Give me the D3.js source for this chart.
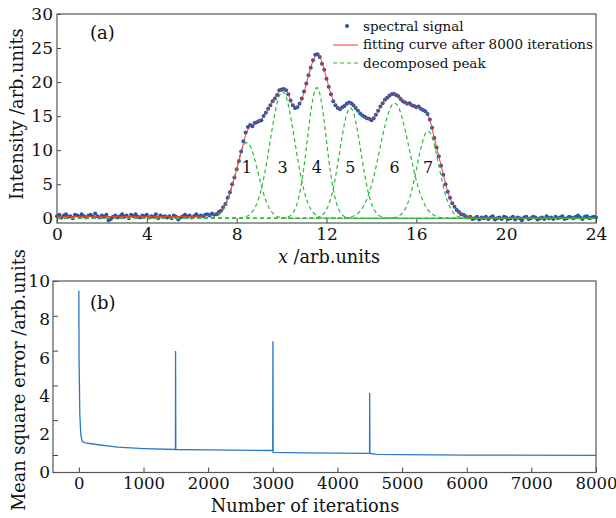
<!DOCTYPE html>
<html>
<head>
<meta charset="utf-8">
<script src="https://cdn.jsdelivr.net/npm/d3@7"></script>
<style>
body{margin:0;background:#fff;}
svg text{font-family:"DejaVu Serif",serif;fill:#111;}
</style>
</head>
<body>
<div id="figure"></div>
<script>
// ---- données ----
// (a) signal spectral, un point tous les 0.1 de x=0 a x=24
let signalY = [
 0.3,0.5,0.1,0.4,0.6,0.2,0.3,0.0,0.5,0.4,
 0.2,0.6,0.3,0.1,0.4,0.5,0.2,0.7,0.3,0.1,
 0.4,0.2,0.5,-0.3,-0.1,0.2,0.4,0.1,0.3,0.6,
 0.2,0.4,0.0,0.5,0.3,0.6,0.2,0.1,0.4,0.3,
 0.5,0.1,0.3,0.2,0.6,0.0,0.4,0.2,0.3,0.1,
 0.3,0.0,0.4,0.2,-0.2,0.1,0.3,0.5,0.2,0.4,
 0.1,0.3,0.6,0.2,0.4,0.3,0.5,0.6,0.4,0.7,
 0.5,0.6,0.9,1.1,1.6,2.1,3.0,3.8,5.0,6.0,
 7.2,8.4,9.8,11.3,12.6,13.4,13.7,13.5,14.0,14.1,
 14.3,14.4,15.0,15.5,16.1,16.6,17.2,17.6,18.1,18.8,
 18.9,19.0,18.8,18.2,17.3,16.6,16.2,16.3,16.8,17.6,
 18.6,19.8,21.0,22.1,23.2,24.0,24.1,23.7,22.7,21.8,
 20.5,19.3,18.2,17.2,16.6,16.2,16.0,16.3,16.5,16.8,
 17.0,16.9,16.6,16.2,15.8,15.4,15.1,14.9,14.7,14.6,
 14.4,14.7,15.2,15.8,16.4,16.9,17.4,17.7,18.0,18.2,
 18.3,18.1,17.9,17.5,17.2,17.0,16.8,16.9,16.6,16.5,
 16.3,16.4,16.1,15.9,15.7,15.3,14.5,13.3,11.8,10.4,
 9.1,7.7,6.4,5.0,3.9,3.0,2.2,1.7,1.2,0.9,
 0.6,0.5,0.3,0.1,0.2,-0.1,0.0,0.2,-0.2,0.1,
 0.0,0.2,-0.1,0.1,0.3,-0.2,0.0,0.1,-0.1,0.2,
 0.1,-0.1,0.0,0.2,-0.2,0.1,0.0,-0.3,0.1,0.2,
 -0.1,0.0,0.2,0.1,-0.2,0.0,0.1,-0.1,0.3,0.0,
 0.1,-0.1,0.2,0.0,0.1,0.3,-0.1,0.0,0.2,0.1,
 0.0,0.2,0.4,0.1,-0.1,0.2,0.3,0.0,0.1,0.2,
 0.1];
// courbe ajustee (rouge), pas de 0.2 entre 6 et 18.8
let fitY = [
 0.25,0.28,0.3,0.35,0.4, 0.55,0.85,1.5,2.9,4.8,
 7.1,9.7,12.2,13.5,13.9, 14.3,14.9,16.0,17.1,18.2,
 18.9,18.8,17.4,16.3,16.7, 18.5,20.9,23.1,24.1,22.9,
 20.6,18.2,16.7,16.0,16.5, 16.9,16.6,15.8,15.1,14.7,
 14.5,15.2,16.4,17.4,18.0, 18.3,17.9,17.2,16.8,16.6,
 16.3,16.1,15.6,14.4,11.8, 9.1,6.4,3.9,2.2,1.2,
 0.65,0.35,0.2,0.1,0.05];
// pics decomposes (gaussiennes)
let picNoms = ["1","3","4","5","6","7"];
let picCentres = [8.45,10.04,11.57,13.06,15.03,16.52];
let picHauteurs = [11.1,18.6,19.2,16.2,16.9,12.8];
let picSigmas = [0.5,0.55,0.42,0.47,0.65,0.48];
let xTicksA = [0,4,8,12,16,20,24];
let yTicksA = [0,5,10,15,20,25,30];

// (b) erreur quadratique moyenne
let iterX = [0,3,15,30,50,100,300,600,1000,1494,1496,1500,2000,2999,3002,3006,3500,4497,4499,4503,4600,5000,6000,8000];
let erreurY = [9.5,6.0,3.0,2.0,1.62,1.55,1.45,1.32,1.25,1.2,6.35,1.2,1.18,1.15,6.85,1.05,1.02,1.0,4.15,1.0,0.95,0.93,0.91,0.89];
let xTicksB = [0,1000,2000,3000,4000,5000,6000,7000,8000];
let yTicksB = [0,2,4,6,8,10];

let svg = d3.select("#figure").append("svg").attr("width",616).attr("height",518);

function cadre(x0,y0,x1,y1){ //rectangle autour du graphe
    svg.append("rect").attr("x",x0).attr("y",y0).attr("width",x1-x0).attr("height",y1-y0)
    .attr("fill","none").attr("stroke","#555").attr("stroke-width",1.2);
}
function styleAxe(g){
    g.select(".domain").remove();
    g.selectAll(".tick line").attr("stroke","#444").attr("stroke-width",1);
    g.selectAll("text").attr("font-size",17).attr("fill","#111").attr("font-family","DejaVu Serif");
}

// ================= (a) =================
let xa = d3.scaleLinear().domain([0,24]).range([57,596]);
let ya = d3.scaleLinear().domain([-0.7,30]).range([223,14]);

svg.append("g").attr("transform","translate(0,223)")
 .call(d3.axisBottom(xa).tickValues(xTicksA).tickSize(-5).tickPadding(5)).call(styleAxe);
svg.append("g").attr("transform","translate(57,0)")
 .call(d3.axisLeft(ya).tickValues(yTicksA).tickSize(-4).tickPadding(4)).call(styleAxe);

// points du signal
let pointsSignal = signalY.map((v,i)=>[i*0.1,v]);
svg.append("g").selectAll("circle").data(pointsSignal).enter().append("circle")
 .attr("cx",d=>xa(d[0])).attr("cy",d=>ya(d[1])).attr("r",2)
 .attr("fill","#1d58ad");

// pics decomposes
let xs = d3.range(0,24.001,0.05);
let ligne = d3.line().x(d=>xa(d[0])).y(d=>ya(d[1]));
for(let p=0;p<picCentres.length;p++){
    let pts = xs.map(x=>[x,picHauteurs[p]*Math.exp(-Math.pow(x-picCentres[p],2)/(2*picSigmas[p]*picSigmas[p]))]);
    svg.append("path").attr("d",ligne(pts)).attr("fill","none")
     .attr("stroke","#2fb83a").attr("stroke-width",1.2).attr("stroke-dasharray","4,3");
    svg.append("text").attr("x",xa(picCentres[p])).attr("y",ya(7.4)).attr("dy","0.35em")
     .attr("text-anchor","middle").attr("font-size",16).text(picNoms[p]);
}

// courbe ajustee
let fitPts = [[0,0.25]];
for(let i=0;i<fitY.length;i++) fitPts.push([6+i*0.2,fitY[i]]);
fitPts.push([24,0.1]);
svg.append("path").attr("d",d3.line().x(d=>xa(d[0])).y(d=>ya(d[1])).curve(d3.curveMonotoneX)(fitPts))
 .attr("fill","none").attr("stroke","#ee3b2e").attr("stroke-width",1);

cadre(57,14,596,223);

svg.append("text").attr("x",90).attr("y",39).attr("font-size",18).text("(a)");

// legende
svg.append("circle").attr("cx",347).attr("cy",26).attr("r",2).attr("fill","#1d58ad");
svg.append("line").attr("x1",333).attr("x2",358).attr("y1",45).attr("y2",45).attr("stroke","#ee3b2e").attr("stroke-width",1);
svg.append("line").attr("x1",333).attr("x2",358).attr("y1",63).attr("y2",63).attr("stroke","#2fb83a").attr("stroke-width",1.2).attr("stroke-dasharray","4,3");
let legendes = ["spectral signal","fitting curve after 8000 iterations","decomposed peak"];
legendes.forEach((t,i)=>{
    svg.append("text").attr("x",363).attr("y",26+i*18.5).attr("dy","0.35em").attr("font-size",13.5).text(t);
});

// titres des axes
svg.append("text").attr("transform","translate(17,114) rotate(-90)").attr("text-anchor","middle")
 .attr("dy","0.35em").attr("font-size",17.7).text("Intensity /arb.units");
let tx = svg.append("text").attr("x",329).attr("y",263).attr("text-anchor","middle").attr("font-size",17.7);
tx.append("tspan").attr("font-style","italic").text("x");
tx.append("tspan").text(" /arb.units");

// ================= (b) =================
let xb = d3.scaleLinear().domain([-400,8000]).range([53,596]);
let yb = d3.scaleLinear().domain([0,10]).range([472.5,281]);     // graduations ecrites
let ybTick = d3.scaleLinear().domain([0,10]).range([455,281]);   // traits de graduation

svg.append("g").attr("transform","translate(0,472.5)")
 .call(d3.axisBottom(xb).tickValues(xTicksB).tickFormat(d3.format("d")).tickSize(-5).tickPadding(5))
 .call(styleAxe).selectAll("text").attr("font-size",16.5);
svg.append("g").attr("transform","translate(53,0)")
 .call(d3.axisLeft(ybTick).tickValues(yTicksB).tickSize(-5).tickFormat("")).call(styleAxe);
svg.append("g").attr("transform","translate(53,0)")
 .call(d3.axisLeft(yb).tickValues(yTicksB).tickSize(0).tickPadding(3)).call(styleAxe);

let erreurPts = iterX.map((v,i)=>[v,erreurY[i]]);
svg.append("path").attr("d",d3.line().x(d=>xb(d[0])).y(d=>yb(d[1]))(erreurPts))
 .attr("fill","none").attr("stroke","#2a78c8").attr("stroke-width",1.3);

cadre(53,281,596,472.5);
svg.append("text").attr("x",90).attr("y",309).attr("font-size",18).text("(b)");

svg.append("text").attr("transform","translate(19,380) rotate(-90)").attr("text-anchor","middle")
 .attr("dy","0.35em").attr("font-size",17.7).text("Mean square error /arb.units");
svg.append("text").attr("x",305).attr("y",512).attr("text-anchor","middle").attr("font-size",17.7).text("Number of iterations");
</script>
</body>
</html>
